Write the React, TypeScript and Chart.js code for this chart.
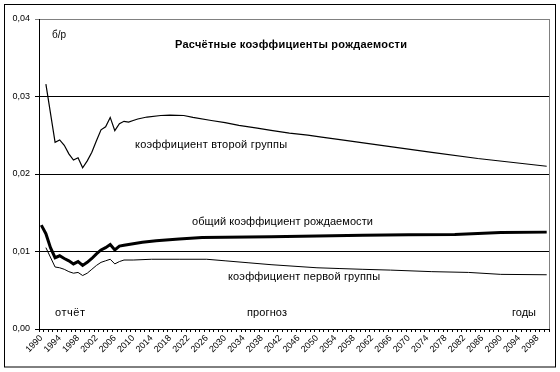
import React, { useEffect, useRef } from "react";
import { Chart, registerables } from "chart.js";

Chart.register(...registerables);

// Category labels: every year 1990..2100
const years: string[] = Array.from({ length: 111 }, (_, i) => String(1990 + i));

// Коэффициент второй группы
const secondYears = [1991, 1993, 1994, 1995, 1996, 1997, 1998, 1999, 2000, 2001, 2002, 2003, 2004, 2005, 2006, 2007, 2008, 2009, 2010, 2011, 2013, 2016, 2018, 2021, 2023, 2027, 2030, 2033, 2037, 2040, 2044, 2048, 2051, 2055, 2064, 2075, 2085, 2100];
const secondValues = [0.0316, 0.0241, 0.0244, 0.0237, 0.0226, 0.0218, 0.0221, 0.0208, 0.0217, 0.0228, 0.0243, 0.0257, 0.0261, 0.0273, 0.0256, 0.0265, 0.0268, 0.0267, 0.0269, 0.0271, 0.02735, 0.02755, 0.0276, 0.02755, 0.0273, 0.0269, 0.02663, 0.02628, 0.02593, 0.02563, 0.02528, 0.02502, 0.02476, 0.02443, 0.0237, 0.0228, 0.0220, 0.0210];

// Общий коэффициент рождаемости
const totalYears = [1990, 1991, 1992, 1993, 1994, 1995, 1996, 1997, 1998, 1999, 2000, 2001, 2002, 2003, 2004, 2005, 2006, 2007, 2008, 2009, 2010, 2012, 2015, 2020, 2025, 2030, 2040, 2050, 2060, 2070, 2080, 2090, 2100];
const totalValues = [0.0134, 0.0123, 0.0105, 0.0092, 0.00945, 0.0091, 0.0088, 0.0084, 0.0087, 0.0082, 0.0086, 0.0091, 0.0097, 0.0102, 0.0105, 0.0109, 0.0102, 0.0107, 0.0108, 0.0109, 0.0110, 0.0112, 0.0114, 0.0116, 0.0118, 0.01185, 0.0119, 0.0120, 0.0121, 0.01215, 0.0122, 0.01245, 0.0125];

// Коэффициент первой группы
const firstYears = [1991, 1993, 1994, 1995, 1996, 1997, 1998, 1999, 2000, 2001, 2002, 2003, 2004, 2005, 2006, 2007, 2008, 2010, 2014, 2020, 2026, 2030, 2035, 2040, 2045, 2050, 2055, 2060, 2066, 2075, 2083, 2090, 2100];
const firstValues = [0.0105, 0.0080, 0.0079, 0.0077, 0.0074, 0.0072, 0.0073, 0.0069, 0.0072, 0.0077, 0.0082, 0.0086, 0.0088, 0.0090, 0.0084, 0.0087, 0.0089, 0.0089, 0.0090, 0.0090, 0.0090, 0.0088, 0.00855, 0.0083, 0.0081, 0.0079, 0.0078, 0.0077, 0.0076, 0.0074, 0.0073, 0.00705, 0.0070];

const yTicks = [0, 0.01, 0.02, 0.03, 0.04];

const FONT = "'Liberation Sans', Arial, sans-serif";

const toPoints = (ys: number[], vs: number[]) => ys.map((y, i) => ({ x: String(y), y: vs[i] }));

const decorPlugin = {
  id: "decor",
  afterDraw(chart: any) {
    const ctx = chart.ctx as CanvasRenderingContext2D;
    const { top, bottom, right } = chart.chartArea;
    ctx.save();
    ctx.lineWidth = 1;
    ctx.strokeStyle = "#808080";
    ctx.beginPath();
    ctx.moveTo(Math.round(right) + 0.5, top);
    ctx.lineTo(Math.round(right) + 0.5, bottom);
    ctx.stroke();
    ctx.strokeStyle = "#000";
    ctx.strokeRect(4.5, 4.5, 551, 362.5);

    const texts: [string, number, number, string, number][] = [
      ["б/р", 52, 35, "10px", 0],
      ["Расчётные коэффициенты рождаемости", 175, 45, "bold 11px", 232],
      ["коэффициент второй группы", 135, 145, "11px", 152],
      ["общий коэффициент рождаемости", 192, 222, "11px", 181],
      ["коэффициент первой группы", 228, 277, "11px", 152],
      ["отчёт", 55, 313, "11px", 30],
      ["прогноз", 247, 313, "11px", 40],
      ["годы", 512, 313, "11px", 24],
    ];
    ctx.fillStyle = "#000";
    ctx.textBaseline = "middle";
    ctx.textAlign = "left";
    for (const [t, x, y, f, w] of texts) {
      ctx.font = `${f} ${FONT}`;
      (ctx as any).letterSpacing = "0px";
      if (w > 0) {
        const m = ctx.measureText(t).width;
        const ls = (w - m) / Math.max(1, t.length - 1);
        (ctx as any).letterSpacing = `${ls.toFixed(2)}px`;
      }
      ctx.fillText(t, x, y);
    }
    (ctx as any).letterSpacing = "0px";
    ctx.restore();
  },
};

export default function App() {
  const ref = useRef<HTMLCanvasElement | null>(null);
  useEffect(() => {
    if (!ref.current) return;
    const chart = new Chart(ref.current, {
      type: "line",
      data: {
        labels: years,
        datasets: [
          {
            label: "коэффициент второй группы",
            data: toPoints(secondYears, secondValues) as any,
            borderColor: "#000",
            borderWidth: 1.2,
            pointRadius: 0,
            tension: 0,
          },
          {
            label: "общий коэффициент рождаемости",
            data: toPoints(totalYears, totalValues) as any,
            borderColor: "#000",
            borderWidth: 3,
            pointRadius: 0,
            tension: 0,
          },
          {
            label: "коэффициент первой группы",
            data: toPoints(firstYears, firstValues) as any,
            borderColor: "#000",
            borderWidth: 1,
            pointRadius: 0,
            tension: 0,
          },
        ],
      },
      options: {
        animation: false,
        responsive: false,
        layout: { padding: { left: 0, top: 19, right: 11, bottom: 0 } },
        plugins: { legend: { display: false }, tooltip: { enabled: false }, title: { display: false } },
        scales: {
          x: {
            type: "category",
            offset: true,
            grid: { display: true, drawOnChartArea: false, drawTicks: true, tickLength: 3, color: "#000", offset: true },
            border: { display: true, color: "#000", width: 1 },
            ticks: {
              autoSkip: false,
              maxRotation: 45,
              minRotation: 45,
              padding: 1,
              color: "#000",
              font: { family: FONT, size: 9 },
              callback: (_v: any, i: number) => (i % 4 === 0 ? years[i] : ""),
            },
            afterFit: (s: any) => {
              s.height = 43;
              s.paddingLeft = 0;
              s.paddingRight = 0;
            },
          },
          y: {
            min: 0,
            max: 0.04,
            afterBuildTicks: (s: any) => {
              s.ticks = yTicks.map((v) => ({ value: v }));
            },
            grid: {
              color: (c: any) => (c.tick && c.tick.value >= 0.039 ? "#808080" : "#000"),
              tickLength: 4,
              drawTicks: true,
            },
            border: { display: true, color: "#000", width: 1 },
            ticks: {
              padding: 5,
              color: "#000",
              font: { family: FONT, size: 9 },
              callback: (v: any) => Number(v).toFixed(2).replace(".", ","),
            },
            afterFit: (s: any) => {
              s.width = 39;
              s.paddingTop = 0;
              s.paddingBottom = 0;
            },
          },
        },
      },
      plugins: [decorPlugin],
    });
    return () => chart.destroy();
  }, []);
  return (
    <div style={{ position: "fixed", left: 0, top: 0, width: 560, height: 372, background: "#fff" }}>
      <canvas ref={ref} width={560} height={372} style={{ display: "block", width: 560, height: 372 }} />
    </div>
  );
}
